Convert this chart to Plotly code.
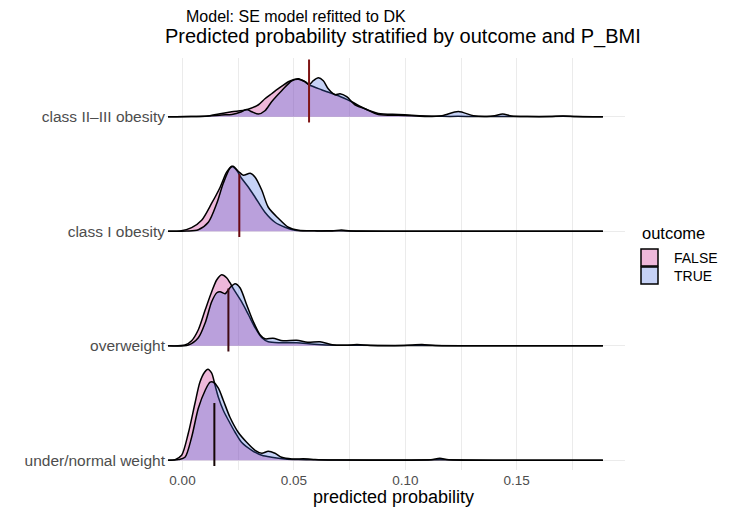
import plotly.graph_objects as go

# ---------------- data ----------------
categories = ["under/normal weight", "overweight", "class I obesity", "class II\u2013III obesity"]
outcomes = ["FALSE", "TRUE"]

# relative ridge heights (density, arbitrary units) at predicted-probability positions
x_c23_false = [-0.0065, 0.0039, 0.0116, 0.0176, 0.0221, 0.0288, 0.0341, 0.0370, 0.0400, 0.0430, 0.0475, 0.0498, 0.0520, 0.0550, 0.0568, 0.0624, 0.0700, 0.0759, 0.0819, 0.0879, 0.0969, 0.1029, 0.1095, 0.1165, 0.1236, 0.1306, 0.1437, 0.1598, 0.1708, 0.1799, 0.1887]
d_c23_false = [0, 0.2, 0.8, 3.3, 5, 7, 12, 18, 23, 28, 35, 37, 38, 35, 32, 27, 21, 15, 8, 3.3, 2.3, 1.5, 0.8, 0.4, 0.4, 0.3, 0.3, 0.2, 0.4, 0.1, 0]
x_c23_true = [-0.0065, 0.0039, 0.0116, 0.0176, 0.0221, 0.0265, 0.0288, 0.0311, 0.0341, 0.0370, 0.0400, 0.0445, 0.0491, 0.0520, 0.0550, 0.0568, 0.0587, 0.0610, 0.0632, 0.0654, 0.0685, 0.0707, 0.0737, 0.0774, 0.0819, 0.0879, 0.0969, 0.1029, 0.1095, 0.1165, 0.1238, 0.1306, 0.1366, 0.1401, 0.1437, 0.1477, 0.1547, 0.1648, 0.1708, 0.1768, 0.1887]
d_c23_true = [0, 0.2, 0.8, 1.8, 2.3, 5, 7.3, 5, 2.7, 6, 15, 26, 36, 37.5, 35, 32, 36, 39, 36, 28, 22, 23, 20, 12, 8, 2.3, 1.5, 1.0, 0.3, 1.0, 5.3, 1.0, 0.3, 1.0, 2.7, 0.8, 0.2, 0.2, 0.8, 0.2, 0]

x_c1_false = [-0.0065, -0.0011, 0.0041, 0.0086, 0.0131, 0.0169, 0.0198, 0.0221, 0.0243, 0.0265, 0.0296, 0.0326, 0.0370, 0.0415, 0.0460, 0.0505, 0.0592, 0.0693, 0.0793, 0.0994, 0.1396, 0.1887]
d_c1_false = [0, 0.3, 3.7, 11, 28, 44, 59, 65, 61, 53, 44, 34, 19, 9, 4, 1, 0.4, 0.5, 0.2, 0.1, 0, 0]
x_c1_true = [-0.0065, 0.0019, 0.0071, 0.0116, 0.0154, 0.0183, 0.0213, 0.0228, 0.0250, 0.0273, 0.0304, 0.0326, 0.0356, 0.0385, 0.0430, 0.0475, 0.0520, 0.0592, 0.0672, 0.0713, 0.0753, 0.0894, 0.1396, 0.1887]
d_c1_true = [0, 0.2, 1.5, 9, 28, 48, 63, 65, 60, 56, 58, 54, 41, 24, 13, 4, 1, 0.4, 0.3, 1.3, 0.3, 0.1, 0, 0]

x_ow_false = [-0.0065, 0.0011, 0.0041, 0.0071, 0.0102, 0.0131, 0.0154, 0.0176, 0.0198, 0.0213, 0.0228, 0.0265, 0.0296, 0.0326, 0.0356, 0.0385, 0.0441, 0.0512, 0.0592, 0.0693, 0.0793, 0.1075, 0.1396, 0.1887]
d_ow_false = [0, 0.7, 5, 16, 36, 54, 66, 71, 68, 63, 57, 44, 31, 18, 8, 4, 3, 3, 1.5, 0.5, 0.5, 0.3, 0, 0]
x_ow_true = [-0.0065, 0.0026, 0.0071, 0.0102, 0.0131, 0.0154, 0.0169, 0.0191, 0.0213, 0.0236, 0.0258, 0.0288, 0.0318, 0.0348, 0.0370, 0.0406, 0.0451, 0.0512, 0.0562, 0.0617, 0.0672, 0.0733, 0.0783, 0.0843, 0.0994, 0.1075, 0.1135, 0.1396, 0.1887]
d_ow_true = [0, 0.7, 8, 23, 44, 53, 54, 52, 58, 62, 58, 41, 24, 11, 7, 7.5, 5, 5.5, 3.5, 4, 1, 0.5, 1.2, 0.3, 0.3, 1.2, 0.2, 0, 0]

x_un_false = [-0.0065, -0.0033, -0.0004, 0.0026, 0.0056, 0.0078, 0.0099, 0.0114, 0.0131, 0.0146, 0.0161, 0.0183, 0.0206, 0.0236, 0.0265, 0.0311, 0.0356, 0.0400, 0.0460, 0.0520, 0.0592, 0.0693, 0.0894, 0.1155, 0.1396, 0.1887]
d_un_false = [0, 0.7, 5, 27, 57, 78, 88, 91, 87, 75, 63, 50, 40, 28, 18, 10, 5, 3, 1.3, 0.7, 0.5, 0.3, 0.2, 0.5, 0, 0]
x_un_true = [-0.0065, -0.0018, 0.0011, 0.0041, 0.0071, 0.0102, 0.0124, 0.0139, 0.0161, 0.0183, 0.0213, 0.0250, 0.0288, 0.0326, 0.0356, 0.0385, 0.0415, 0.0445, 0.0491, 0.0542, 0.0565, 0.0595, 0.0693, 0.0994, 0.1115, 0.1155, 0.1195, 0.1396, 0.1887]
d_un_true = [0, 0.7, 3, 23, 52, 70, 78, 78, 72, 60, 43, 28, 18, 10, 7, 9, 7, 3, 1.3, 1.5, 1.3, 0.7, 0.2, 0.1, 0.5, 2, 0.5, 0, 0]

# median predicted probability per BMI group (vertical marks)
medians = [0.0143, 0.0206, 0.0255, 0.0568]
median_colors = ["#140505", "#3f0a12", "#6a0a12", "#7f1515"]

x_tickvals = [0.0, 0.05, 0.10, 0.15]
x_ticktext = ["0.00", "0.05", "0.10", "0.15"]
x_minor = [0.025, 0.075, 0.125, 0.175]

# ---------------- styling ----------------
W, H = 734, 513
PL, PR, PT, PB = 166, 625, 58, 470      # panel box in px
HEIGHT_SCALE = 1 / 114.4                 # density units -> row units
FILL = {"FALSE": "rgba(199,21,133,0.3)", "TRUE": "rgba(65,105,225,0.3)"}
SEG_UP, SEG_DOWN = 0.50, 0.05

series = {
    0: {"FALSE": (x_un_false, d_un_false), "TRUE": (x_un_true, d_un_true)},
    1: {"FALSE": (x_ow_false, d_ow_false), "TRUE": (x_ow_true, d_ow_true)},
    2: {"FALSE": (x_c1_false, d_c1_false), "TRUE": (x_c1_true, d_c1_true)},
    3: {"FALSE": (x_c23_false, d_c23_false), "TRUE": (x_c23_true, d_c23_true)},
}

fig = go.Figure()
for row in [3, 2, 1, 0]:
    base = row + 1
    for oc in outcomes:
        xs, ds = series[row][oc]
        ys = [base + d * HEIGHT_SCALE for d in ds]
        fig.add_trace(go.Scatter(x=[xs[0], xs[-1]], y=[base, base], mode="lines",
                                 line=dict(width=0, color="rgba(0,0,0,0)"),
                                 hoverinfo="skip", showlegend=False))
        fig.add_trace(go.Scatter(x=xs, y=ys, mode="lines", fill="tonexty",
                                 fillcolor=FILL[oc],
                                 line=dict(width=1.5, color="black", shape="spline", smoothing=0.8),
                                 name=oc, showlegend=False))
    fig.add_trace(go.Scatter(x=[medians[row], medians[row]],
                             y=[base - SEG_DOWN, base + SEG_UP], mode="lines",
                             line=dict(width=2, color=median_colors[row]),
                             showlegend=False, hoverinfo="skip"))

pw, ph = PR - PL, PB - PT
def px(xp):
    return (xp - PL) / pw
def py(yp):
    return (PB - yp) / ph

x0 = 0.0 - (182.5 - PL) / 2228
x1 = 0.0 + (PR - 182.5) / 2228
y0 = 1 - (PB - 460.3) / 114.4
y1 = 4 + (116.7 - PT) / 114.4

grid = "#EBEBEB"
fig.update_layout(
    width=W, height=H,
    margin=dict(l=PL, r=W - PR, t=PT, b=H - PB, pad=0),
    paper_bgcolor="white", plot_bgcolor="white",
    font=dict(family="Liberation Sans, Arial, sans-serif", color="black"),
    showlegend=False,
    xaxis=dict(range=[x0, x1], tickvals=x_tickvals, ticktext=x_ticktext,
               showgrid=True, gridcolor=grid, gridwidth=1.1, zeroline=False,
               showline=False, ticks="", tickfont=dict(size=13.5, color="#4D4D4D"),
               minor=dict(tickvals=x_minor, showgrid=True, gridcolor=grid, gridwidth=0.8, ticks="")),
    yaxis=dict(range=[y0, y1], tickvals=[1, 2, 3, 4], ticktext=categories,
               showgrid=True, gridcolor=grid, gridwidth=1.1, zeroline=False,
               showline=False, ticks="", tickfont=dict(size=15.5, color="#4D4D4D")),
)

ann = []
ann.append(dict(text="Model: SE model refitted to DK", x=px(184), y=py(17), xref="paper", yref="paper",
                xanchor="left", yanchor="middle", showarrow=False, font=dict(size=16)))
ann.append(dict(text="Predicted probability stratified by outcome and P_BMI", x=px(163), y=py(37),
                xref="paper", yref="paper", xanchor="left", yanchor="middle", showarrow=False,
                font=dict(size=20)))
ann.append(dict(text="predicted probability", x=px(393), y=py(497), xref="paper", yref="paper",
                xanchor="center", yanchor="middle", showarrow=False, font=dict(size=18)))
ann.append(dict(text="outcome", x=px(640), y=py(233), xref="paper", yref="paper",
                xanchor="left", yanchor="middle", showarrow=False, font=dict(size=16.5)))
key_colors = ["rgba(199,21,133,0.3)", "rgba(65,105,225,0.3)"]
shapes = []
for i, oc in enumerate(outcomes):
    top = 249 + i * 18
    shapes.append(dict(type="rect", xref="paper", yref="paper",
                       x0=px(641), x1=px(658), y0=py(top), y1=py(top + 17),
                       fillcolor=key_colors[i], line=dict(color="black", width=1.5)))
    ann.append(dict(text=oc, x=px(672), y=py(top + 8.5), xref="paper", yref="paper",
                    xanchor="left", yanchor="middle", showarrow=False, font=dict(size=14)))
fig.update_layout(annotations=ann, shapes=shapes)

fig.write_html("out.html", config={"displayModeBar": False},
               post_script="document.body.style.margin='0';")
